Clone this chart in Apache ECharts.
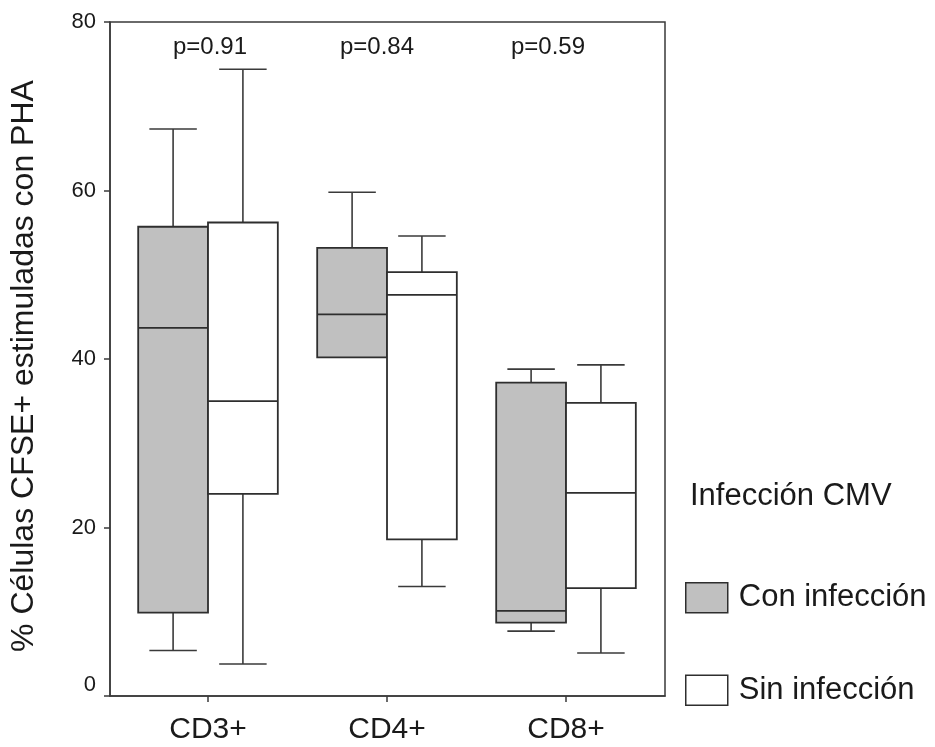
<!DOCTYPE html>
<html>
<head>
<meta charset="utf-8">
<script src="https://cdn.jsdelivr.net/npm/echarts@6/dist/echarts.min.js"></script>
<style>
html,body{margin:0;padding:0;background:#fff;}
#chart{width:935px;height:747px;}
</style>
</head>
<body>
<div id="chart"></div>
<script>
// ---- data ----
const categories = ['CD3+', 'CD4+', 'CD8+'];
const seriesNames = ['Con infección', 'Sin infección'];
// [whiskerLow, Q1, median, Q3, whiskerHigh]
const conInfeccion = [
  [5.4, 9.9, 43.7, 55.7, 67.3],
  [40.2, 40.2, 45.3, 53.2, 59.8],
  [7.7, 8.7, 10.1, 37.2, 38.8]
];
const sinInfeccion = [
  [3.8, 24.0, 35.0, 56.2, 74.4],
  [13.0, 18.6, 47.6, 50.3, 54.6],
  [5.1, 12.8, 24.1, 34.8, 39.3]
];
const pValues = ['p=0.91', 'p=0.84', 'p=0.59'];
const yTicks = [0, 20, 40, 60, 80];
const legendTitle = 'Infección CMV';
const yAxisName = '% Células CFSE+ estimuladas con PHA';

// ---- styles / layout ----
const FONT = '"Liberation Sans", Arial, sans-serif';
const LINE = '#3a3a3a';
const GRAY = '#c0c0c0';
const TEXT = '#1a1a1a';
const BOX_FRAC = 0.39;   // box width as fraction of one category unit
const CAP_FRAC = 0.68;   // cap width relative to box width
const P_LABEL_Y = 77;    // p-value text height in data units
const P_DX = [2, -10, -18];

const chart = echarts.init(document.getElementById('chart'), null, {renderer: 'canvas'});

function boxRenderer(side, fill) {
  return function (params, api) {
    const i = api.value(0);
    const lo = api.value(1), q1 = api.value(2), med = api.value(3), q3 = api.value(4), hi = api.value(5);
    const unit = api.size([1, 0])[0];
    const w = unit * BOX_FRAC;
    const c = api.coord([i, 0])[0];
    const x0 = side < 0 ? c - w : c;
    const xm = x0 + w / 2;
    const cap = w * CAP_FRAC;
    const yLo = api.coord([i, lo])[1], yQ1 = api.coord([i, q1])[1], yMed = api.coord([i, med])[1];
    const yQ3 = api.coord([i, q3])[1], yHi = api.coord([i, hi])[1];
    const ls = {stroke: LINE, lineWidth: 1.6};
    const children = [];
    if (hi > q3) {
      children.push({type: 'line', shape: {x1: xm, y1: yQ3, x2: xm, y2: yHi}, style: ls});
      children.push({type: 'line', shape: {x1: xm - cap / 2, y1: yHi, x2: xm + cap / 2, y2: yHi}, style: ls});
    }
    if (lo < q1) {
      children.push({type: 'line', shape: {x1: xm, y1: yQ1, x2: xm, y2: yLo}, style: ls});
      children.push({type: 'line', shape: {x1: xm - cap / 2, y1: yLo, x2: xm + cap / 2, y2: yLo}, style: ls});
    }
    children.push({type: 'rect', shape: {x: x0, y: yQ3, width: w, height: yQ1 - yQ3},
      style: {fill: fill, stroke: '#2e2e2e', lineWidth: 1.8}});
    children.push({type: 'line', shape: {x1: x0, y1: yMed, x2: x0 + w, y2: yMed}, style: {stroke: '#2e2e2e', lineWidth: 1.8}});
    return {type: 'group', children: children};
  };
}

const option = {
  backgroundColor: '#fff',
  animation: false,
  grid: {
    left: 110, right: 270, top: 22, bottom: 51,
    show: true, borderColor: LINE, borderWidth: 1.5, backgroundColor: 'transparent'
  },
  title: {
    text: legendTitle, left: 685, top: 476,
    textStyle: {fontFamily: FONT, fontSize: 31, fontWeight: 'normal', color: TEXT}
  },
  legend: {
    orient: 'vertical', left: 680, top: 577,
    itemWidth: 42, itemHeight: 30, itemGap: 61,
    selectedMode: false,
    textStyle: {fontFamily: FONT, fontSize: 31, color: TEXT, padding: [0, 0, 0, 6]},
    data: [
      {name: seriesNames[0], icon: 'rect', itemStyle: {color: GRAY, borderColor: '#2e2e2e', borderWidth: 1.5}},
      {name: seriesNames[1], icon: 'rect', itemStyle: {color: '#fff', borderColor: '#2e2e2e', borderWidth: 1.5}}
    ]
  },
  xAxis: {
    type: 'value',
    min: -0.5475, max: 2.553,
    axisLine: {show: true, onZero: false, lineStyle: {color: LINE, width: 1.5}},
    axisTick: {show: true, customValues: [0, 1, 2], length: 6, lineStyle: {color: LINE, width: 1.5}},
    axisLabel: {
      customValues: [0, 1, 2], margin: 19,
      formatter: function (v) { return categories[Math.round(v)]; },
      fontFamily: FONT, fontSize: 30, color: TEXT
    },
    splitLine: {show: false}
  },
  yAxis: {
    type: 'value', min: 0, max: 80, interval: 20,
    name: yAxisName, nameLocation: 'middle', nameGap: 70,
    nameTextStyle: {fontFamily: FONT, fontSize: 32, color: TEXT, padding: [0, 14, 0, 0]},
    axisLine: {show: true, onZero: false, lineStyle: {color: LINE, width: 1.5}},
    axisTick: {show: true, length: 6, lineStyle: {color: LINE, width: 1.5}},
    axisLabel: {
      margin: 14, fontFamily: FONT, fontSize: 22, color: TEXT,
      customValues: yTicks,
      formatter: function (v) { return v === 0 ? '{z|0}' : String(v); },
      rich: {z: {fontFamily: FONT, fontSize: 22, color: TEXT, padding: [0, 0, 22, 0]}}
    },
    splitLine: {show: false}
  },
  series: [
    {
      name: seriesNames[0], type: 'custom',
      renderItem: boxRenderer(-1, GRAY),
      itemStyle: {color: GRAY},
      encode: {x: 0, y: [1, 2, 3, 4, 5]},
      data: conInfeccion.map(function (d, i) { return [i].concat(d); }),
      z: 3
    },
    {
      name: seriesNames[1], type: 'custom',
      renderItem: boxRenderer(1, '#fff'),
      itemStyle: {color: '#fff'},
      encode: {x: 0, y: [1, 2, 3, 4, 5]},
      data: sinInfeccion.map(function (d, i) { return [i].concat(d); }),
      z: 3
    },
    {
      name: 'pvalues', type: 'custom', silent: true,
      renderItem: function (params, api) {
        const i = api.value(0);
        const p = api.coord([i, P_LABEL_Y]);
        return {type: 'text', x: p[0] + P_DX[i], y: p[1],
          style: {text: pValues[i], fontFamily: FONT, fontSize: 24, fill: TEXT, align: 'center', verticalAlign: 'middle'}};
      },
      encode: {x: 0, y: 1},
      data: pValues.map(function (t, i) { return [i, P_LABEL_Y]; }),
      z: 4
    }
  ]
};
chart.setOption(option);
</script>
</body>
</html>
